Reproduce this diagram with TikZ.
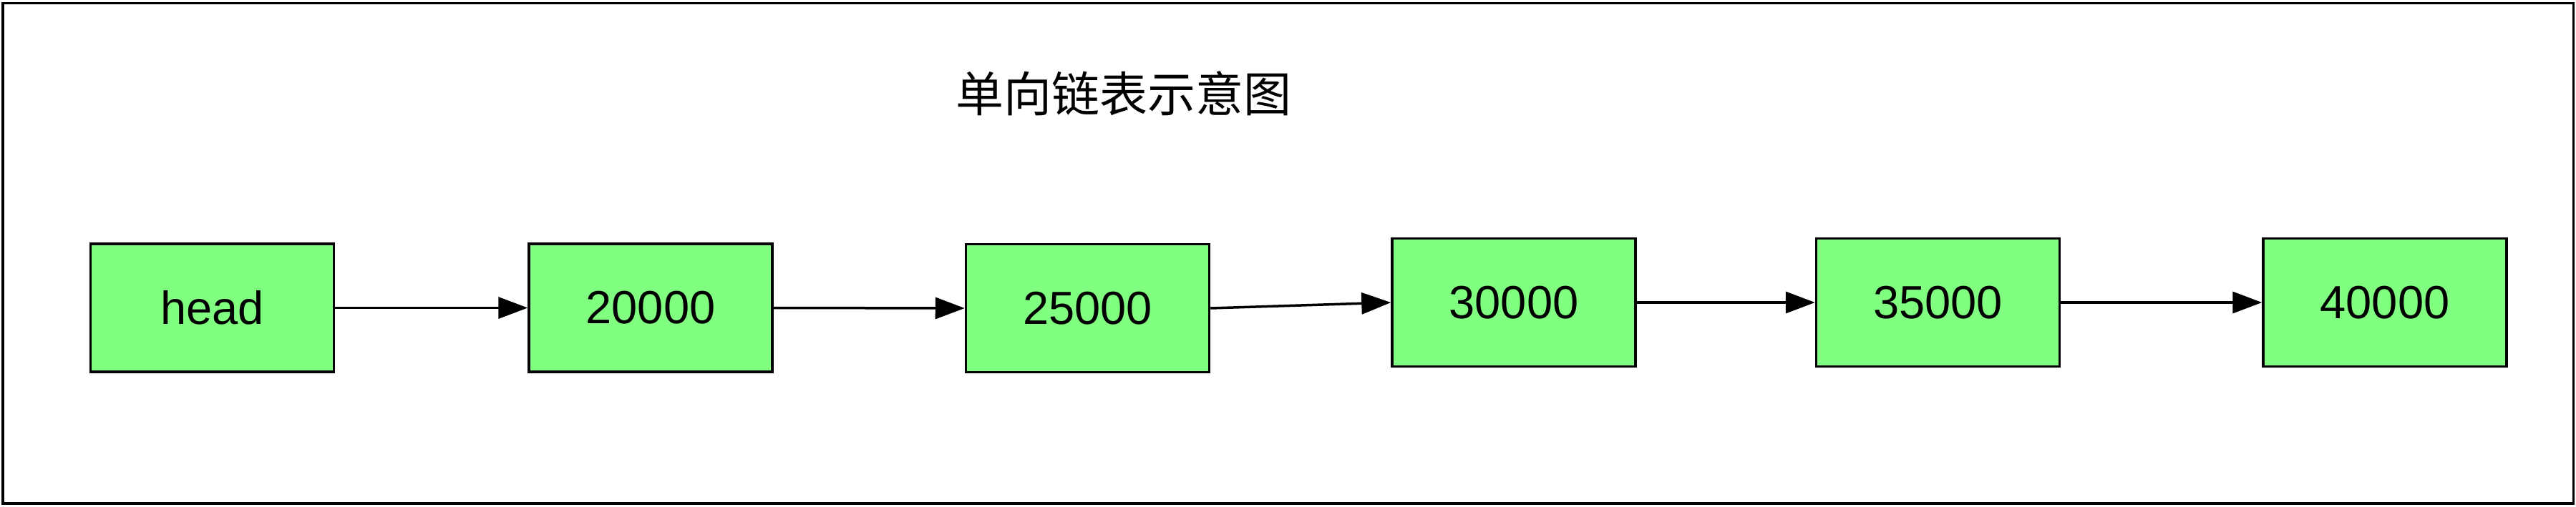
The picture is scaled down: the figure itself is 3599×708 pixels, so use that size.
\documentclass[tikz,border=0pt]{standalone}
\usepackage{fontspec}
\setmainfont{Liberation Sans}
\newfontfamily\cjk{Noto Sans CJK SC}
\usetikzlibrary{arrows.meta}
\begin{document}
\begin{tikzpicture}[x=0.2pt,y=-0.2pt,
  listnode/.style={draw=black,fill={rgb,255:red,128;green,255;blue,128},line width=0.7pt,
    minimum width=68pt,minimum height=35.8pt,inner sep=0pt,font=\fontsize{13}{15}\selectfont},
  link/.style={line width=0.7pt,-{Triangle[length=8.2pt,width=6pt]}}]
\useasboundingbox (0,0) rectangle (3599,708);
\draw[line width=0.7pt] (4,4.5) rectangle (3595.5,704);
\node[font=\cjk\fontsize{13.4}{15}\selectfont] (title) at (1570,131) {单向链表示意图};
\node[listnode] (head) at (296.5,430.5) {head};
\node[listnode] (n1) at (909,430.5) {20000};
\node[listnode] (n2) at (1519.5,431) {25000};
\node[listnode] (n3) at (2115,423) {30000};
\node[listnode] (n4) at (2707.5,423) {35000};
\node[listnode] (n5) at (3332,423) {40000};
\draw[link] (head.east) -- (n1.west);
\draw[link] (n1.east) -- (n2.west);
\draw[link] (n2.east) -- (n3.west);
\draw[link] (n3.east) -- (n4.west);
\draw[link] (n4.east) -- (n5.west);
\end{tikzpicture}
\end{document}
